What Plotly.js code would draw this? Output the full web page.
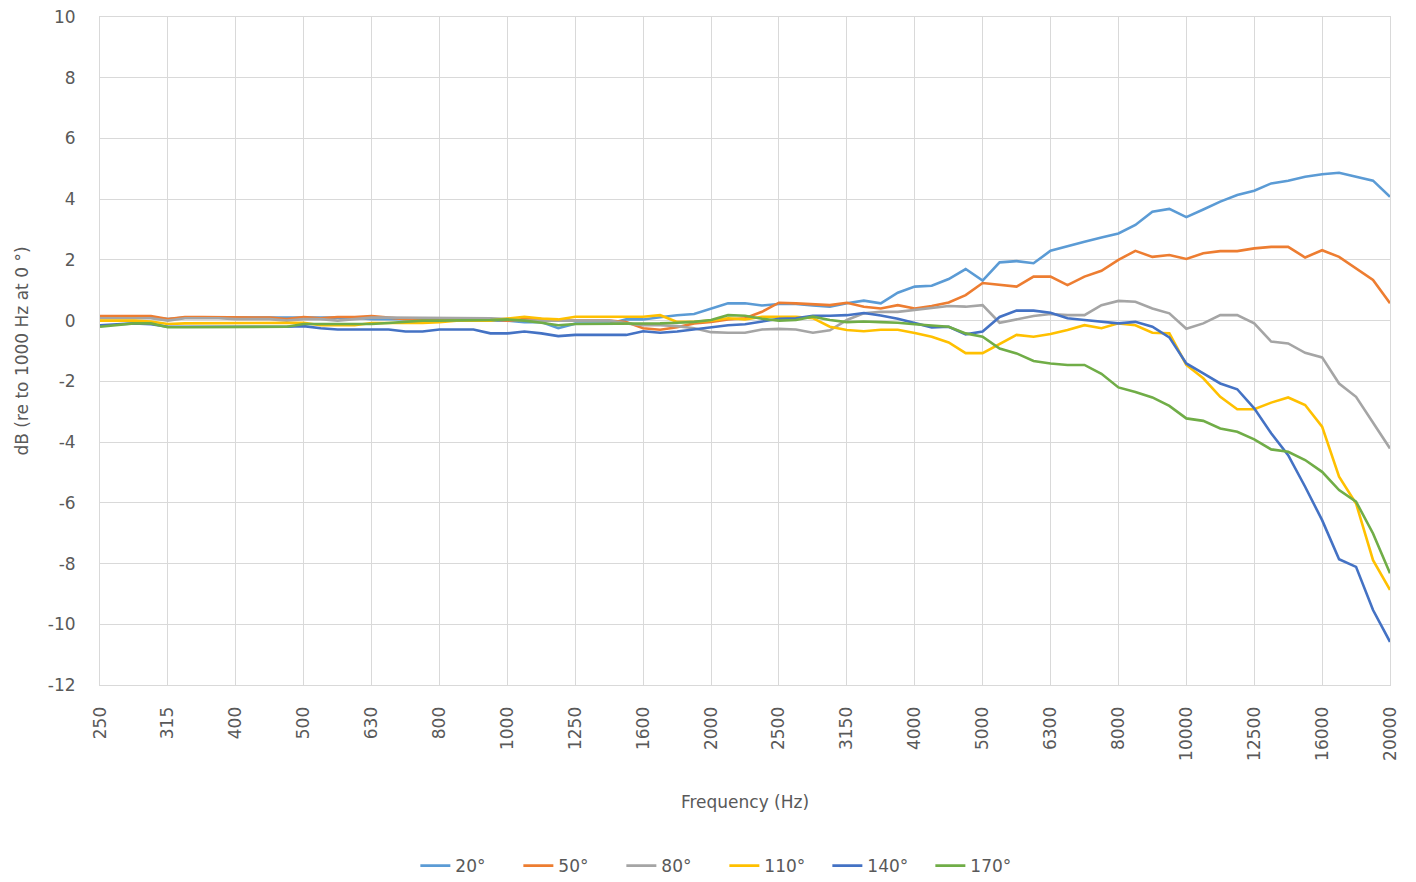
<!DOCTYPE html>
<html>
<head>
<meta charset="utf-8">
<script src="https://cdn.plot.ly/plotly-3.0.1.min.js"></script>
<style>html,body{margin:0;padding:0;background:#fff;}#chart{width:1416px;height:882px;}</style>
</head>
<body>
<div id="chart"></div>
<script>
var frequencies = ["250","265","280","300","315","335","355","375","400","425","450","475","500","530","560","600","630","670","710","750","800","850","900","950","1000","1060","1120","1180","1250","1320","1400","1500","1600","1700","1800","1900","2000","2120","2240","2360","2500","2650","2800","3000","3150","3350","3550","3750","4000","4250","4500","4750","5000","5300","5600","6000","6300","6700","7100","7500","8000","8500","9000","9500","10000","10600","11200","11800","12500","13200","14000","15000","16000","17000","18000","19000","20000"];

var tickLabels = ["250","315","400","500","630","800","1000","1250","1600","2000","2500","3150","4000","5000","6300","8000","10000","12500","16000","20000"];

var yTickValues = [-12,-10,-8,-6,-4,-2,0,2,4,6,8,10];
var yTickLabels = ["-12","-10","-8","-6","-4","-2","0","2","4","6","8","10"];

var seriesNames = ["20°","50°","80°","110°","140°","170°"];

var deg20 = [0.1,0.1,0.1,0.1,0.05,0.1,0.1,0.1,0.1,0.1,0.12,0.1,0.1,0.1,0.1,0.1,
  0.05,0.05,0.05,0.05,0.05,0.0,0.0,0.0,0.0,-0.05,-0.05,-0.25,-0.1,-0.1,-0.1,
  0.04,0.04,0.11,0.18,0.22,
  0.4,0.57,0.57,0.5,0.55,0.55,0.5,0.46,0.57,0.66,0.57,0.92,1.12,1.15,1.37,1.7,1.32,
  1.92,1.96,1.89,2.3,2.46,2.6,2.74,2.87,3.15,3.59,3.68,3.41,3.66,3.92,4.14,4.28,4.52,4.61,4.74,4.82,4.87,4.74,4.61,4.08];

var deg50 = [0.15,0.15,0.15,0.15,0.05,0.12,0.12,0.12,0.12,0.1,0.1,0.05,0.12,0.08,0.12,0.12,
  0.15,0.1,0.05,0.05,0.05,0.05,0.05,0.05,0.0,0.05,0.05,0.0,0.0,0.0,0.0,
  -0.05,-0.25,-0.3,-0.22,-0.09,-0.04,0.04,0.08,0.29,0.59,0.57,0.53,0.51,0.59,0.46,0.4,0.51,0.4,0.48,0.6,0.84,1.24,
  1.18,1.12,1.45,1.45,1.17,1.45,1.64,2.0,2.3,2.1,2.16,2.03,2.22,2.29,2.29,2.38,2.43,2.43,2.08,2.32,2.1,1.72,1.34,0.57];

var deg80 = [0.08,0.08,0.08,0.08,0.0,0.08,0.08,0.08,0.05,0.05,0.05,0.0,0.05,0.05,0.0,0.05,
  0.1,0.1,0.1,0.1,0.1,0.1,0.1,0.08,0.05,0.0,0.0,0.0,0.0,0.0,0.0,
  -0.09,-0.15,-0.15,-0.18,-0.25,-0.38,-0.4,-0.4,-0.29,-0.27,-0.29,-0.4,-0.32,0.02,0.24,0.29,0.29,0.35,0.4,0.48,0.46,0.51,
  -0.07,0.04,0.15,0.22,0.18,0.18,0.51,0.65,0.62,0.4,0.24,-0.27,-0.09,0.18,0.18,-0.09,-0.69,-0.75,-1.06,-1.21,-2.07,-2.51,-3.38,-4.21];

var deg110 = [0.0,0.0,0.0,-0.03,-0.11,-0.09,-0.09,-0.09,-0.09,-0.07,-0.07,-0.07,-0.07,-0.15,-0.15,-0.15,
  -0.08,-0.08,-0.09,-0.08,-0.05,0.0,0.0,0.0,0.07,0.13,0.07,0.04,0.13,0.13,0.13,
  0.13,0.13,0.18,-0.04,-0.04,0.0,0.08,0.04,0.13,0.13,0.13,0.08,-0.2,-0.31,-0.35,-0.3,-0.3,-0.41,-0.53,-0.72,-1.07,-1.07,
  -0.78,-0.47,-0.53,-0.44,-0.31,-0.15,-0.25,-0.09,-0.15,-0.4,-0.42,-1.46,-1.9,-2.51,-2.92,-2.92,-2.7,-2.53,-2.78,-3.49,-5.14,-6.02,-7.89,-8.87];

var deg140 = [-0.15,-0.12,-0.09,-0.12,-0.2,-0.2,-0.2,-0.2,-0.2,-0.2,-0.22,-0.2,-0.18,-0.25,-0.29,-0.29,
  -0.29,-0.29,-0.36,-0.36,-0.29,-0.29,-0.29,-0.42,-0.42,-0.36,-0.42,-0.51,-0.47,-0.47,-0.47,
  -0.47,-0.35,-0.4,-0.36,-0.29,-0.21,-0.15,-0.12,-0.04,0.06,0.08,0.16,0.16,0.18,0.25,0.17,0.06,-0.07,-0.22,-0.2,-0.45,-0.36,
  0.12,0.33,0.33,0.26,0.08,0.02,-0.04,-0.09,-0.04,-0.2,-0.55,-1.41,-1.74,-2.07,-2.26,-2.89,-3.71,-4.43,-5.47,-6.57,-7.86,-8.11,-9.53,-10.58];

var deg170 = [-0.2,-0.15,-0.09,-0.09,-0.22,-0.22,-0.22,-0.22,-0.22,-0.22,-0.22,-0.2,-0.11,-0.11,-0.11,-0.11,
  -0.11,-0.08,-0.04,0.0,0.0,0.0,0.0,0.02,0.04,0.0,-0.07,-0.15,-0.11,-0.11,-0.11,
  -0.09,-0.09,-0.09,-0.07,-0.04,0.02,0.18,0.16,0.06,0.0,0.02,0.13,0.02,-0.05,-0.03,-0.05,-0.07,-0.12,-0.16,-0.2,-0.42,-0.53,
  -0.92,-1.08,-1.33,-1.41,-1.46,-1.46,-1.75,-2.2,-2.35,-2.53,-2.81,-3.22,-3.3,-3.55,-3.66,-3.91,-4.24,-4.32,-4.59,-4.98,-5.58,-5.96,-7.01,-8.32];

var seriesValues = [deg20, deg50, deg80, deg110, deg140, deg170];
var colors = ["#5B9BD5","#ED7D31","#A5A5A5","#FFC000","#4472C4","#70AD47"];

var traces = seriesValues.map(function(vals, k){
  return {
    x: frequencies, y: vals, type: "scatter", mode: "lines",
    name: seriesNames[k],
    line: {color: colors[k], width: 2.6}
  };
});

var fontFam = "DejaVu Sans, sans-serif";
var layout = {
  width: 1416, height: 882,
  paper_bgcolor: "#ffffff", plot_bgcolor: "#ffffff",
  margin: {l: 100, r: 26, t: 17, b: 197},
  font: {family: fontFam, color: "#595959", size: 17},
  showlegend: true,
  legend: {orientation: "h", x: 0.484, xanchor: "center", y: 0.018, yref: "container", yanchor: "middle",
           font: {size: 17, color: "#595959"}, entrywidth: 58, entrywidthmode: "pixels"},
  xaxis: {
    type: "category", categoryorder: "array", categoryarray: frequencies,
    range: [0, 76], tickvals: tickLabels, ticktext: tickLabels,
    tickangle: -90, ticks: "", ticklabelstandoff: 14,
    showgrid: true, gridcolor: "#D9D9D9", gridwidth: 1,
    showline: true, mirror: true, linecolor: "#D9D9D9", linewidth: 1,
    tickfont: {size: 17, color: "#595959"},
    title: {text: "Frequency (Hz)", font: {size: 17, color: "#595959"}, standoff: 36},
    automargin: false, fixedrange: true
  },
  yaxis: {
    range: [-12, 10], tickvals: yTickValues, ticktext: yTickLabels, ticks: "", ticklabelstandoff: 20,
    showgrid: true, gridcolor: "#D9D9D9", gridwidth: 1,
    zeroline: true, zerolinecolor: "#D9D9D9", zerolinewidth: 1,
    showline: true, mirror: true, linecolor: "#D9D9D9", linewidth: 1,
    tickfont: {size: 17, color: "#595959"},
    title: {text: "dB (re to 1000 Hz at 0 °)", font: {size: 17, color: "#595959"}, standoff: 14},
    automargin: false, fixedrange: true
  }
};

Plotly.newPlot("chart", traces, layout, {displayModeBar: false, staticPlot: true});
</script>
</body>
</html>
